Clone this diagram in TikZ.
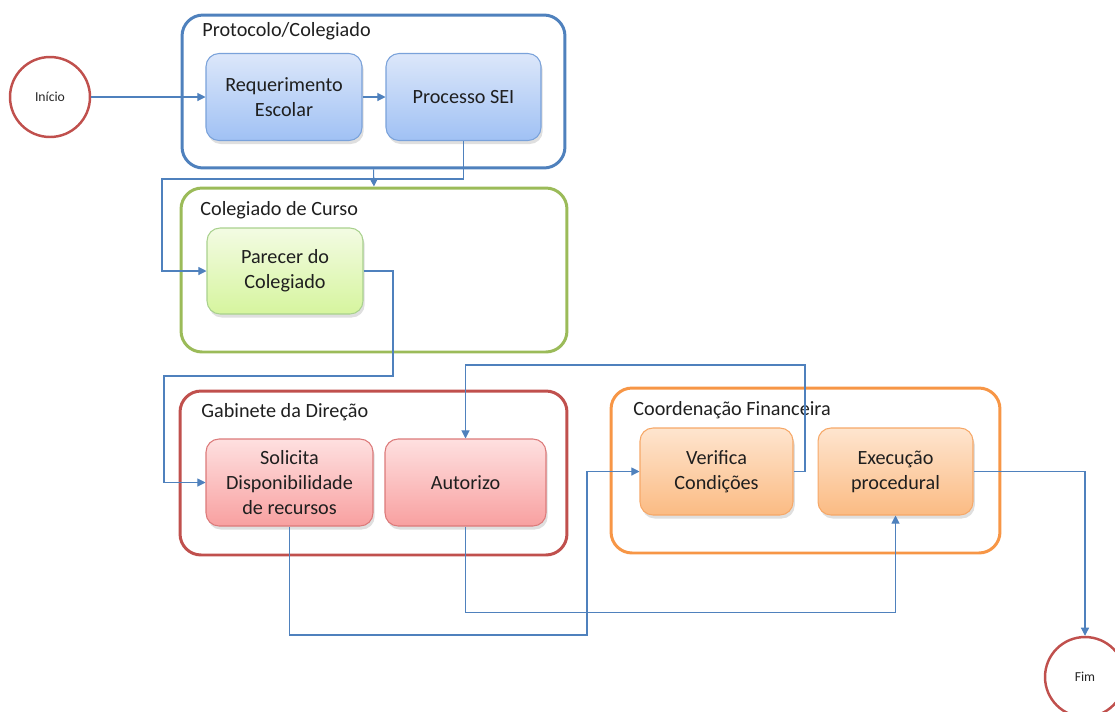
\documentclass[tikz,border=0pt]{standalone}
\usepackage{fontspec}
\setmainfont{Carlito}
\usetikzlibrary{positioning, arrows.meta, shadows}
\definecolor{flowblue}{HTML}{4F81BD}
\definecolor{lanegreen}{HTML}{9BBB59}
\definecolor{lanered}{HTML}{C0504D}
\definecolor{laneorange}{HTML}{F79646}
\definecolor{bluetop}{HTML}{DCE7FA}
\definecolor{bluebot}{HTML}{A0C1F4}
\definecolor{blueline}{HTML}{7AA2DA}
\definecolor{greentop}{HTML}{F3FBE3}
\definecolor{greenbot}{HTML}{D6F59E}
\definecolor{greenline}{HTML}{A9D18E}
\definecolor{redtop}{HTML}{FEE0E0}
\definecolor{redbot}{HTML}{F8A0A0}
\definecolor{redline}{HTML}{DC7A7A}
\definecolor{orangetop}{HTML}{FEE5CF}
\definecolor{orangebot}{HTML}{FBBB83}
\definecolor{orangeline}{HTML}{F6A868}
\tikzset{
    flow/.style={draw=flowblue, line width=0.6pt, -{Triangle[length=4.6pt, width=4.6pt]}}, % connectors
    lane/.style={draw, line width=1.7pt, rounded corners=0.42cm, inner sep=0pt}, % swimlane frames
    lanetitle/.style={anchor=west, inner sep=0pt, font=\fontsize{11.5}{14}\selectfont, text=black!88},
    procbox/.style={rounded corners=0.26cm, line width=0.6pt, align=center, inner sep=0pt,
        minimum height=1.74cm, font=\fontsize{11.5}{14.2}\selectfont, text=black!88,
        drop shadow={shadow xshift=1pt, shadow yshift=-2pt, opacity=0.25}}, % process steps
    blueproc/.style={draw=blueline, top color=bluetop, bottom color=bluebot},
    greenproc/.style={draw=greenline, top color=greentop, bottom color=greenbot},
    redproc/.style={draw=redline, top color=redtop, bottom color=redbot},
    orangeproc/.style={draw=orangeline, top color=orangetop, bottom color=orangebot},
    endpoint/.style={circle, draw=lanered, line width=1.4pt, minimum size=1.6cm, inner sep=0pt,
        font=\fontsize{7.8}{9}\selectfont, text=black!85}, % start and end events
}
\begin{document}
\begin{tikzpicture}[x=0.02cm, y=-0.02cm]
    \useasboundingbox (0,0) rectangle (1115,711);

    % swimlanes
    \node[lane, draw=flowblue, minimum width=7.66cm, minimum height=3.06cm] (proto) at (373.5,91.5) {};
    \node[lane, draw=lanegreen, minimum width=7.72cm, minimum height=3.28cm] (coleg) at (374,270) {};
    \node[lane, draw=lanered, minimum width=7.74cm, minimum height=3.28cm] (gabin) at (373.5,473) {};
    \node[lane, draw=laneorange, minimum width=7.78cm, minimum height=3.30cm] (coord) at (805.5,470.5) {};

    \node[lanetitle] (protot) at (202,31) {Protocolo/Colegiado};
    \node[lanetitle] (colegt) at (200,210) {Colegiado de Curso};
    \node[lanetitle] (gabint) at (201,412) {Gabinete da Direção};
    \node[lanetitle] (coordt) at (633,410) {Coordenação Financeira};

    % events
    \node[endpoint] (inicio) at (50,97) {Início};
    \node[endpoint] (fim) at (1085,677) {Fim};

    % process steps
    \node[procbox, blueproc, minimum width=3.12cm] (req) at (284,97) {Requerimento\\Escolar};
    \node[procbox, blueproc, minimum width=3.10cm] (sei) at (463.5,97) {Processo SEI};
    \node[procbox, greenproc, minimum width=3.12cm, minimum height=1.72cm] (parecer) at (285,271) {Parecer do\\Colegiado};
    \node[procbox, redproc, minimum width=3.34cm] (solic) at (289.5,482.5) {Solicita\\Disponibilidade\\de recursos};
    \node[procbox, redproc, minimum width=3.22cm] (autor) at (465.5,482.5) {Autorizo};
    \node[procbox, orangeproc, minimum width=3.06cm] (verif) at (716.5,471.5) {Verifica\\Condições};
    \node[procbox, orangeproc, minimum width=3.10cm] (exec) at (895.5,471.5) {Execução\\procedural};

    % bend points
    \coordinate (seiturn) at (162,179);
    \coordinate (parturn) at (393,376);
    \coordinate (parleft) at (164,376);
    \coordinate (verturn) at (805,365);
    \coordinate (solturn) at (587,635);

    \draw[flow] (inicio) -- (req);
    \draw[flow] (req) -- (sei);
    \draw[flow] (proto.south) -- (coleg.north);
    \draw[flow] (sei.south) |- (seiturn) |- (parecer.west);
    \draw[flow] (parecer.east) -| (parturn) -- (parleft) |- (solic.west);
    \draw[flow] (verif.east) -| (verturn) -| (autor.north);
    \draw[flow] (solic.south) |- (solturn) |- (verif.west);
    \draw[flow] (autor.south) -- ++(0,86) -| (exec.south);
    \draw[flow] (exec.east) -| (fim.north);
\end{tikzpicture}
\end{document}
